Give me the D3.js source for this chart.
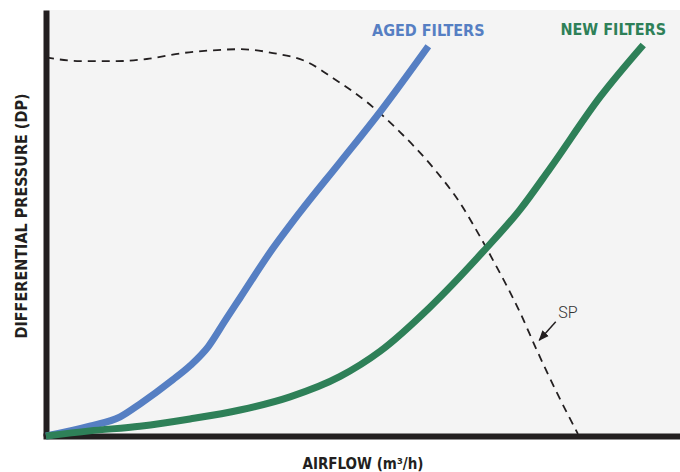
<!DOCTYPE html>
<html>
<head>
<meta charset="utf-8">
<script src="https://cdn.jsdelivr.net/npm/d3@7"></script>
<style>
  body { margin: 0; background: #fff; }
  .lbl { font-family: "Liberation Sans Narrow", "DejaVu Sans Condensed", "Arial Narrow", sans-serif; font-weight: bold; }
</style>
</head>
<body>
<div id="chart"></div>
<script>
'use strict';

// airflow (0-100) vs differential pressure (0-100)
var agedFlow = [0, 6.9, 11.7, 14.8, 20.0, 22.8, 25.6, 28.3, 30.6, 35.3, 40.1, 46.4, 52.7, 60.3];
var agedDP   = [0, 2.3, 4.5, 7.5, 13.2, 16.6, 21.0, 27.2, 32.4, 43.0, 52.6, 64.3, 76.1, 91.5];

var newFlow = [0, 6.9, 14.8, 22.7, 30.6, 38.5, 46.4, 52.7, 60.6, 68.9, 74.8, 79.5, 87.4, 94.2];
var newDP   = [0, 1.2, 2.3, 4.0, 6.1, 9.2, 14.0, 19.9, 30.3, 43.2, 53.2, 62.8, 79.6, 91.8];

var spFlow = [0, 5.4, 11.2, 15.9, 21.6, 27.0, 30.6, 35.8, 41.2, 45.3, 50.6, 55.8, 61.0, 65.3, 68.5, 70.5, 74.8, 77.4, 80.6, 83.9];
var spDP   = [88.9, 88.0, 88.0, 88.5, 89.9, 90.6, 90.8, 89.9, 87.8, 84.0, 78.4, 71.4, 63.1, 54.7, 46.7, 41.3, 28.9, 20.2, 10.1, 0.5];

var seriesNames = ['AGED FILTERS', 'NEW FILTERS'];
var spName = 'SP';
var xTitle = 'AIRFLOW (m³/h)';
var yTitle = 'DIFFERENTIAL PRESSURE (DP)';

var W = 680, H = 472;
var ink = '#231f20';
var colors = { 'AGED FILTERS': '#567fc3', 'NEW FILTERS': '#2e8058' };

var svg = d3.select('#chart').append('svg')
  .attr('width', W).attr('height', H);

var x = d3.scaleLinear().domain([0, 100]).range([46, 680]);
var y = d3.scaleLinear().domain([0, 100]).range([436, 10]);

function zip(a, b) { return a.map(function(v, i) { return { x: v, y: b[i] }; }); }

var series = [
  { name: seriesNames[0], values: zip(agedFlow, agedDP) },
  { name: seriesNames[1], values: zip(newFlow, newDP) }
];

// plot background
svg.append('rect')
  .attr('x', x(0)).attr('y', y(100))
  .attr('width', x(100) - x(0)).attr('height', y(0) - y(100))
  .attr('fill', '#f4f4f4');

// axes, no ticks
var yAxis = svg.append('g')
  .attr('transform', 'translate(' + x(0) + ',0)')
  .call(d3.axisLeft(y).tickValues([]).tickSizeOuter(0));
var xAxis = svg.append('g')
  .attr('transform', 'translate(0,' + y(0) + ')')
  .call(d3.axisBottom(x).tickValues([]).tickSizeOuter(0));
yAxis.select('.domain').attr('stroke', ink).attr('stroke-width', 6);
xAxis.select('.domain').attr('stroke', ink).attr('stroke-width', 6).attr('stroke-linecap', 'square');

var line = d3.line()
  .x(function(d) { return x(d.x); })
  .y(function(d) { return y(d.y); })
  .curve(d3.curveMonotoneX);

// SP curve
svg.append('path')
  .datum(zip(spFlow, spDP))
  .attr('d', line)
  .attr('fill', 'none')
  .attr('stroke', ink)
  .attr('stroke-width', 1.8)
  .attr('stroke-dasharray', '8,6');

svg.selectAll('.filter')
  .data(series)
  .enter().append('path')
    .attr('class', 'filter')
    .attr('d', function(d) { return line(d.values); })
    .attr('fill', 'none')
    .attr('stroke', function(d) { return colors[d.name]; })
    .attr('stroke-width', 7);

// series labels above the line ends
var labelDx = { 'AGED FILTERS': 0, 'NEW FILTERS': -30 };
svg.selectAll('.slabel')
  .data(series)
  .enter().append('text')
    .attr('class', 'lbl')
    .attr('x', function(d) { return x(d.values[d.values.length - 1].x) + labelDx[d.name]; })
    .attr('y', function(d) { return y(d.values[d.values.length - 1].y) - 10; })
    .attr('text-anchor', 'middle')
    .attr('font-size', 16)
    .attr('fill', function(d) { return colors[d.name]; })
    .text(function(d) { return d.name; });

// SP annotation
svg.append('defs').append('marker')
  .attr('id', 'arr').attr('viewBox', '0 0 10 10')
  .attr('refX', 9).attr('refY', 5)
  .attr('markerWidth', 7).attr('markerHeight', 7)
  .attr('orient', 'auto')
  .append('path').attr('d', 'M0,1L10,5L0,9Z').attr('fill', ink);

svg.append('line')
  .attr('x1', x(80.4)).attr('y1', y(26.8))
  .attr('x2', x(77.8)).attr('y2', y(22.5))
  .attr('stroke', ink).attr('stroke-width', 1.5)
  .attr('marker-end', 'url(#arr)');

svg.append('text')
  .attr('x', x(80.8)).attr('y', y(27.7))
  .attr('font-family', 'Roboto, "Noto Sans", sans-serif')
  .attr('font-weight', 300)
  .attr('font-size', 16)
  .attr('fill', '#333')
  .text(spName);

// axis titles
svg.append('text')
  .attr('class', 'lbl')
  .attr('x', 363).attr('y', 469)
  .attr('text-anchor', 'middle')
  .attr('font-size', 15)
  .attr('fill', ink)
  .text(xTitle);

svg.append('text')
  .attr('class', 'lbl')
  .attr('transform', 'translate(27,216) rotate(-90)')
  .attr('text-anchor', 'middle')
  .attr('font-size', 16)
  .attr('fill', ink)
  .text(yTitle);
</script>
</body>
</html>
